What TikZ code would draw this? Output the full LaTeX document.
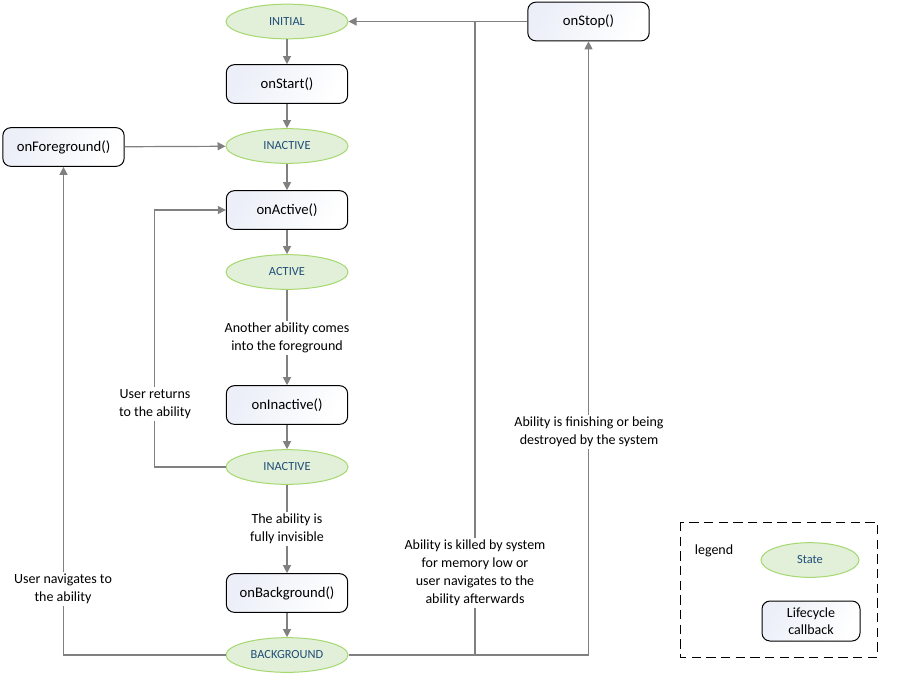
\documentclass[tikz,border=0pt]{standalone}
\usepackage{fontspec}
\setmainfont{Carlito}
\usetikzlibrary{shapes.geometric,arrows.meta}
\definecolor{stfill}{HTML}{E2EFD9}
\definecolor{stdraw}{HTML}{A5D86E}
\definecolor{sttext}{HTML}{1F4E79}
\definecolor{cbfill}{HTML}{ECEFF8}
\definecolor{lngray}{HTML}{808080}
\begin{document}
\begin{tikzpicture}[x=0.75pt,y=-0.75pt,
 state/.style={ellipse, draw=stdraw, fill=stfill, line width=0.75pt, minimum width=91.5pt, minimum height=26pt, inner sep=0pt, text=sttext, font=\fontsize{9.3}{11}\selectfont},
 cb/.style={rectangle, rounded corners=6pt, draw=black, line width=0.75pt, left color=cbfill, right color=white, shading angle=60, minimum width=91pt, minimum height=29pt, inner sep=1pt, font=\fontsize{11}{13}\selectfont, align=center},
 lbl/.style={fill=white, font=\fontsize{10.5}{13.5}\selectfont, align=center, inner sep=1.5pt},
 conn/.style={draw=lngray, line width=0.9pt, -{Triangle[length=6pt,width=6pt]}},
 plain/.style={draw=lngray, line width=0.9pt}]
\useasboundingbox (0,0) rectangle (902,679);

% states
\node[state] (initial) at (287,21.5) {INITIAL};
\node[state] (inactive1) at (287,146) {INACTIVE};
\node[state] (active) at (287,272) {ACTIVE};
\node[state] (inactive2) at (287,467) {INACTIVE};
\node[state] (bg) at (287,655) {BACKGROUND};

% callbacks
\node[cb] (onstart) at (287,84) {onStart()};
\node[cb] (onfg) at (63.5,147) {onForeground()};
\node[cb] (onactive) at (287,210) {onActive()};
\node[cb] (oninactive) at (287,405) {onInactive()};
\node[cb] (onbg) at (287,593) {onBackground()};
\node[cb] (onstop) at (588.5,21.5) {onStop()};

% main chain
\draw[conn] (initial) -- (onstart);
\draw[conn] (onstart) -- (inactive1);
\draw[conn] (inactive1) -- (onactive);
\draw[conn] (onactive) -- (active);
\draw[conn] (active) -- (oninactive);
\draw[conn] (oninactive) -- (inactive2);
\draw[conn] (inactive2) -- (onbg);
\draw[conn] (onbg) -- (bg);

\draw[conn] (onfg) -- (inactive1);
\draw[conn] (inactive2.west) -- ++(-71,0) |- (onactive.west);
\draw[conn] (bg.west) -| (onfg.south);
\draw[conn] (bg.east) -| (onstop.south);
\draw[conn] (onstop.west) -- (initial.east);
\coordinate (k1) at (475,655);
\coordinate (k2) at (475,21.5);
\draw[plain] (k1) -- (k2);

% labels
\node[lbl] (l1) at (287,338) {Another ability comes\\into the foreground};
\node[lbl] (l2) at (287,529) {The ability is\\fully invisible};
\node[lbl] (l3) at (155,404) {User returns\\to the ability};
\node[lbl] (l4) at (63,589) {User navigates to\\the ability};
\node[lbl] (l5) at (589,432) {Ability is finishing or being\\destroyed by the system};
\node[lbl] (l6) at (475,573) {Ability is killed by system\\for memory low or\\user navigates to the\\ability afterwards};

% legend
\draw[black, line width=0.75pt, dash pattern=on 7pt off 4pt] (680,522) rectangle (877,657);
\node[font=\fontsize{10.5}{12}\selectfont] (leg) at (714,551) {legend};
\node[state, minimum width=73.5pt] (lstate) at (810,560) {State};
\node[cb, minimum width=73.5pt, minimum height=30pt, font=\fontsize{10.5}{13}\selectfont] (lcb) at (811,621) {Lifecycle\\callback};
\end{tikzpicture}
\end{document}
